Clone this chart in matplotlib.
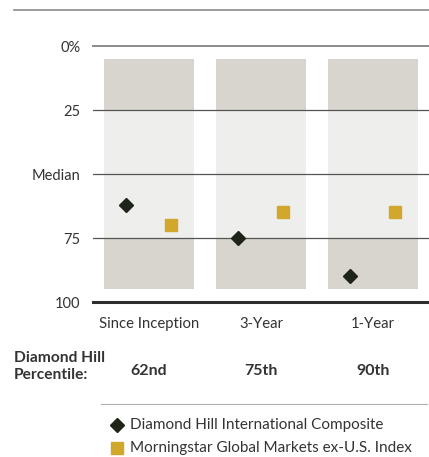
import numpy as np
import matplotlib.pyplot as plt
import matplotlib.transforms as mtransforms
from matplotlib.lines import Line2D

plt.rc('font', family=['Lato', 'DejaVu Sans'], size=10)

periods = ['Since Inception', '3-Year', '1-Year']
composite = [62, 75, 90]      # Diamond Hill International Composite
index_vals = [70, 65, 65]     # Morningstar Global Markets ex-U.S. Index
percentile_labels = ['62nd', '75th', '90th']
yticks = [0, 25, 50, 75, 100]
ytick_labels = ['0%', '25', 'Median', '75', '100']

W, H = 429, 457
txt = '#333333'
gold = '#d1a82b'
dark = '#1f2418'

fig = plt.figure(figsize=(W / 100, H / 100), dpi=100)
ax = fig.add_axes([93 / W, 1 - 302 / H, 336 / W, 256 / H])
x = np.arange(len(periods))

# shaded panels: dark 5-25, light 25-75, dark 75-95
for xi in x:
    ax.bar(xi, 20, bottom=5, width=0.8, color='#d8d5ce', zorder=1)
    ax.bar(xi, 50, bottom=25, width=0.8, color='#eeeeec', zorder=1)
    ax.bar(xi, 20, bottom=75, width=0.8, color='#d8d5ce', zorder=1)

ax.axhline(0, color='#8a8a88', lw=1.4, zorder=2, clip_on=False)
for yv in [25, 50, 75]:
    ax.axhline(yv, color='#555555', lw=0.9, zorder=2)
ax.axhline(100, color='#2e2e2e', lw=2.2, zorder=2, clip_on=False)

ax.plot(x - 0.205, composite, 'D', color=dark, ms=7, zorder=3, clip_on=False)
ax.plot(x + 0.2, index_vals, 's', color=gold, ms=8.6, zorder=3, clip_on=False)

ax.set_xlim(-0.5, 2.5)
ax.set_ylim(100, 0)
ax.set_yticks(yticks, ytick_labels)
ax.set_xticks(x, periods)
ax.tick_params(axis='y', length=0, pad=9, labelsize=10.5, labelcolor=txt)
ax.tick_params(axis='x', length=0, pad=11, labelsize=10.7, labelcolor=txt)
for s in ax.spines.values():
    s.set_visible(False)

# top rule
fig.add_artist(Line2D([14 / W, 1], [1 - 10 / H, 1 - 10 / H], color='#8a8a85', lw=1.2))

# percentile row
fig.text(14 / W, 1 - 358 / H, 'Diamond Hill', ha='left', va='center',
         fontsize=11.2, fontweight='bold', color=txt)
fig.text(14 / W, 1 - 375 / H, 'Percentile:', ha='left', va='center',
         fontsize=11.2, fontweight='bold', color=txt)
trans = mtransforms.blended_transform_factory(ax.transData, fig.transFigure)
for xi, lab in zip(x, percentile_labels):
    ax.text(xi, 1 - 371 / H, lab, transform=trans, ha='center', va='center',
            fontsize=11.5, fontweight='bold', color=txt)

# legend
fig.add_artist(Line2D([101 / W, 427 / W], [1 - 404 / H, 1 - 404 / H], color='#b0b0aa', lw=0.8))
fig.add_artist(Line2D([117 / W], [1 - 425 / H], marker='D', color=dark, ms=7, ls='none'))
fig.add_artist(Line2D([117 / W], [1 - 448 / H], marker='s', color=gold, ms=8.6, ls='none'))
fig.text(130 / W, 1 - 425 / H, 'Diamond Hill International Composite', ha='left', va='center',
         fontsize=11, color=txt)
fig.text(130 / W, 1 - 448 / H, 'Morningstar Global Markets ex-U.S. Index', ha='left', va='center',
         fontsize=11, color=txt)

fig.savefig('out.png', dpi=100)
